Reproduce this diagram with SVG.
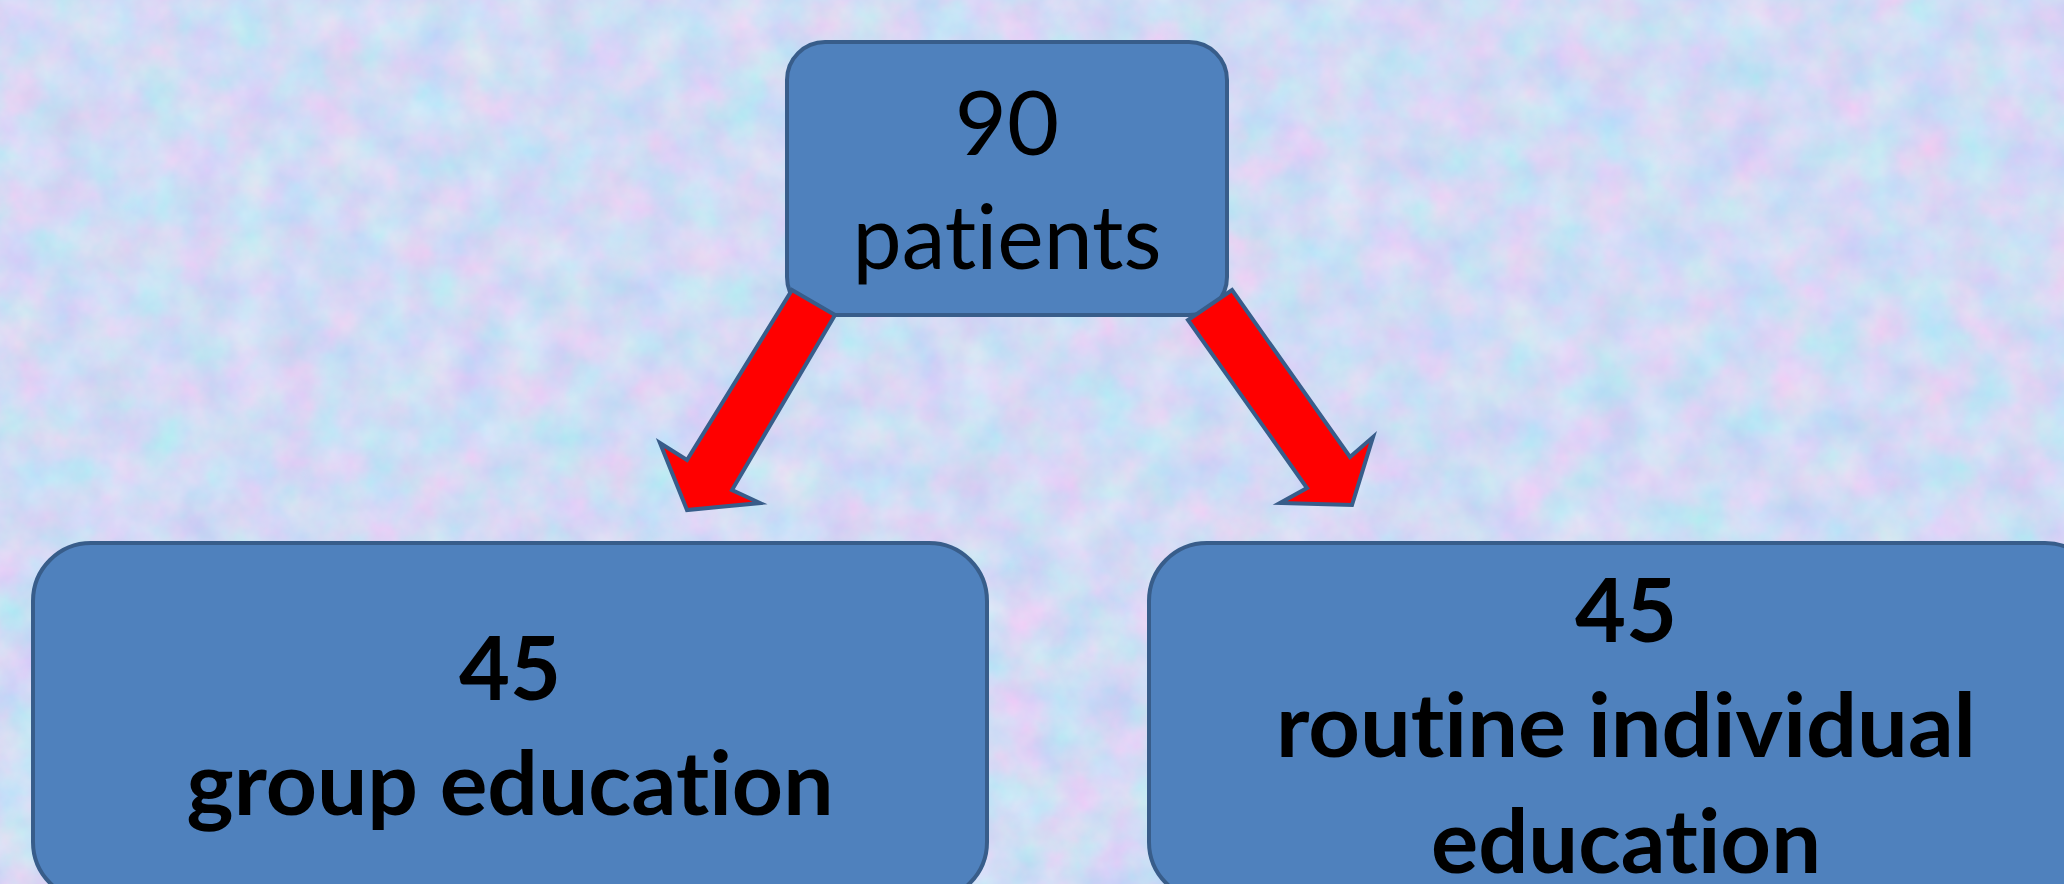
<svg xmlns="http://www.w3.org/2000/svg" width="2064" height="884" viewBox="0 0 2064 884">
<defs>
<filter id="tex" x="0" y="0" width="100%" height="100%" color-interpolation-filters="sRGB">
<feTurbulence type="fractalNoise" baseFrequency="0.022" numOctaves="4" seed="7"/>
<feColorMatrix type="matrix" values="0.24 -0.1 0 0 0.75  0 0.16 0 0 0.78  0 0 0.05 0 0.935  0 0 0 0 1"/>
</filter>
<style>
.box{fill:#4F81BD;stroke:#385D8A;stroke-width:4}
.arrow{fill:#FF0000;stroke:#385D8A;stroke-width:4;stroke-linejoin:miter}
.t{font-family:Lato,"Open Sans","Liberation Sans",sans-serif;font-size:90px;fill:#000;text-anchor:middle;font-variant-ligatures:none}
.b{font-weight:bold;font-size:88px}
</style>
</defs>
<rect id="background" width="2064" height="884" filter="url(#tex)"/>
<g id="node-top">
<rect class="box" x="787" y="42" width="440" height="273" rx="38"/>
<text class="t" x="1007" y="155">90</text>
<text class="t" x="1007" y="269" textLength="309" lengthAdjust="spacingAndGlyphs">patients</text>
</g>
<g id="node-left">
<rect class="box" x="33" y="543" width="954" height="357" rx="58"/>
<text class="t b" x="510" y="700">45</text>
<text class="t b" x="510" y="815" textLength="647" lengthAdjust="spacingAndGlyphs">group education</text>
</g>
<g id="node-right">
<rect class="box" x="1149" y="543" width="954" height="357" rx="58"/>
<text class="t b" x="1626" y="642">45</text>
<text class="t b" x="1626" y="757" textLength="700" lengthAdjust="spacingAndGlyphs">routine individual</text>
<text class="t b" x="1626" y="873" textLength="390" lengthAdjust="spacingAndGlyphs">education</text>
</g>
<g id="connectors">
<polygon class="arrow" points="792,290 835,315 732,490 760,503 687,510 660,443 687,460"/>
<polygon class="arrow" points="1232,290 1350,457 1373,437 1352,505 1280,503 1307,488 1188,320"/>
</g>
</svg>
